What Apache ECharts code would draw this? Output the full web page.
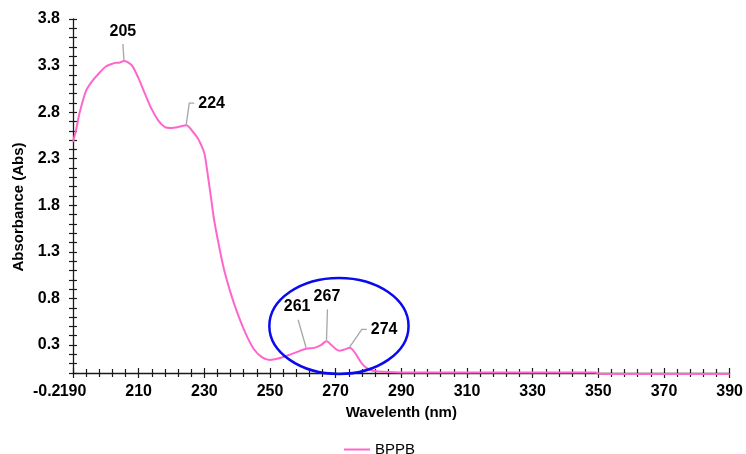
<!DOCTYPE html>
<html>
<head>
<meta charset="utf-8">
<script src="https://cdn.jsdelivr.net/npm/echarts@6/dist/echarts.min.js"></script>
<style>
  html, body { margin: 0; padding: 0; background: #fff; }
  #main { width: 746px; height: 454px; }
</style>
</head>
<body>
<div id="main"></div>
<script>
// UV spectrum of BPPB
var wavelength = [190, 191, 192, 194, 196, 198, 200, 202, 203, 204, 205.5, 206.5, 208, 210, 212, 214, 216, 218, 220, 222, 224.5,
    226.5, 228, 229, 230, 231, 232, 233, 234.5, 236, 238, 240, 242.5, 245, 247.5, 250, 252.5, 255.5, 258.5, 261, 263.5,
    265.5, 267.2, 269, 271, 272.5, 274.3, 276, 278, 280, 283, 290, 310, 330, 349, 351, 370, 390];
var absorbance = [2.48, 2.62, 2.79, 3.03, 3.14, 3.22, 3.29, 3.32, 3.33, 3.33, 3.35, 3.34, 3.30, 3.16, 2.99, 2.83, 2.71, 2.64, 2.63, 2.64, 2.66,
    2.59, 2.52, 2.45, 2.36, 2.14, 1.89, 1.64, 1.36, 1.11, 0.86, 0.65, 0.43, 0.26, 0.17, 0.14, 0.155, 0.19, 0.23, 0.26, 0.27,
    0.30, 0.34, 0.29, 0.24, 0.25, 0.27, 0.21, 0.10, 0.04, 0.015, 0.006, 0.005, 0.005, 0.005, -0.01, -0.01, -0.01];

// peak labels
var peakWl = [205.5, 224.5, 261, 267.2, 274.3];
var peakText = ['205', '224', '261', '267', '274'];

// ellipse round the small peaks (data units)
var ringCenter = [271, 0.505];
var ringRadius = [21.2, 0.515];

var FONT = 'Liberation Sans, Arial, sans-serif';
var PINK = '#FF66CC';

var seriesData = [];
for (var i = 0; i < wavelength.length; i++) {
    seriesData.push([wavelength[i], absorbance[i]]);
}

function absAt(w) {
    for (var i = 0; i < wavelength.length - 1; i++) {
        if (w >= wavelength[i] && w <= wavelength[i + 1]) {
            var t = (w - wavelength[i]) / (wavelength[i + 1] - wavelength[i]);
            return absorbance[i] + t * (absorbance[i + 1] - absorbance[i]);
        }
    }
    return 0;
}

var myChart = echarts.init(document.getElementById('main'));

myChart.setOption({
    animation: false,
    textStyle: { fontFamily: FONT },
    grid: { left: 73, right: 14, top: 19, bottom: 81 },
    legend: {
        data: [{ name: 'BPPB', icon: 'rect' }],
        left: 344,
        top: 442,
        padding: 0,
        itemWidth: 26,
        itemHeight: 2,
        itemGap: 4,
        textStyle: { fontFamily: FONT, fontSize: 15, color: '#000' }
    },
    xAxis: [
        {
            type: 'value', min: 190, max: 390, interval: 20, position: 'bottom',
            name: 'Wavelenth (nm)', nameLocation: 'middle', nameGap: 30,
            nameTextStyle: { fontFamily: FONT, fontSize: 15, fontWeight: 'bold', color: '#000' },
            axisLine: { show: true, onZero: false, lineStyle: { color: '#1a1a1a', width: 1.3 } },
            axisTick: { show: true, length: 5, lineStyle: { color: '#1a1a1a', width: 1.2 } },
            minorTick: { show: true, splitNumber: 5, length: 4, lineStyle: { color: '#1a1a1a', width: 1.2 } },
            axisLabel: { margin: 11, fontFamily: FONT, fontSize: 16, fontWeight: 'bold', color: '#000' },
            splitLine: { show: false }
        },
        {
            type: 'value', min: 190, max: 390, interval: 20, position: 'bottom',
            axisLine: { show: false, onZero: false },
            axisTick: { show: true, inside: true, length: 5, lineStyle: { color: '#1a1a1a', width: 1.2 } },
            minorTick: { show: true, splitNumber: 5, length: 4, lineStyle: { color: '#1a1a1a', width: 1.2 } },
            axisLabel: { show: false },
            splitLine: { show: false }
        }
    ],
    yAxis: [
        {
            type: 'value', min: 0, max: 3.8, interval: 0.1, position: 'left',
            name: 'Absorbance (Abs)', nameLocation: 'middle', nameGap: 47,
            nameTextStyle: { fontFamily: FONT, fontSize: 15, fontWeight: 'bold', color: '#000', padding: [0, 22, 0, 0] },
            axisLine: { show: true, onZero: false, lineStyle: { color: '#1a1a1a', width: 1.3 } },
            axisTick: { show: true, length: 4, lineStyle: { color: '#1a1a1a', width: 1.2 } },
            axisLabel: {
                margin: 13, fontFamily: FONT, fontSize: 16, fontWeight: 'bold', color: '#000',
                formatter: function (v) {
                    var r = Math.round(v * 10);
                    if (r > 0 && (r - 3) % 5 === 0) return v.toFixed(1);
                    return '';
                }
            },
            splitLine: { show: false }
        },
        {
            type: 'value', min: 0, max: 3.8, interval: 0.1, position: 'left',
            axisLine: { show: false, onZero: false },
            axisTick: { show: true, inside: true, length: 4, lineStyle: { color: '#1a1a1a', width: 1.2 } },
            axisLabel: { show: false },
            splitLine: { show: false }
        }
    ],
    series: [
        {
            name: 'BPPB',
            type: 'line',
            xAxisIndex: 0,
            yAxisIndex: 0,
            data: seriesData,
            symbol: 'none',
            smooth: 0.3,
            clip: false,
            z: 3,
            lineStyle: { color: PINK, width: 2 },
            itemStyle: { color: PINK }
        }
    ]
});

// annotations: leader lines, peak numbers, the ring, and the "-0.2" label
// offsets in px from the peak point
var leaderOffsets = [
    { pts: [[-1, -17]], label: [-1, -29], align: 'center' },
    { pts: [[3, -22], [8, -22]], label: [12, -22], align: 'left' },
    { pts: [[-8, -29]], label: [-9, -42], align: 'center' },
    { pts: [[1, -32]], label: [0.5, -44.5], align: 'center' },
    { pts: [[12, -18.5], [17, -18.5]], label: [21, -18.5], align: 'left' }
];

var graphics = [];
for (var k = 0; k < peakWl.length; k++) {
    var p = myChart.convertToPixel({ gridIndex: 0 }, [peakWl[k], absAt(peakWl[k])]);
    var o = leaderOffsets[k];
    var pts = [[p[0], p[1] - 1]];
    for (var j = 0; j < o.pts.length; j++) {
        pts.push([p[0] + o.pts[j][0], p[1] + o.pts[j][1]]);
    }
    graphics.push({
        type: 'polyline', shape: { points: pts }, z: 5,
        style: { stroke: '#a6a6a6', lineWidth: 1.3, fill: null }
    });
    graphics.push({
        type: 'text', z: 6, x: p[0] + o.label[0], y: p[1] + o.label[1],
        style: {
            text: peakText[k], fill: '#000', font: 'bold 16px ' + FONT,
            textAlign: o.align, textVerticalAlign: 'middle'
        }
    });
}

var c = myChart.convertToPixel({ gridIndex: 0 }, ringCenter);
var e = myChart.convertToPixel({ gridIndex: 0 }, [ringCenter[0] + ringRadius[0], ringCenter[1] + ringRadius[1]]);
graphics.push({
    type: 'ellipse', z: 4,
    shape: { cx: c[0], cy: c[1], rx: Math.abs(e[0] - c[0]), ry: Math.abs(c[1] - e[1]) },
    style: { stroke: '#0a0aee', lineWidth: 2.5, fill: null }
});

var low = myChart.convertToPixel({ gridIndex: 0 }, [190, -0.2]);
graphics.push({
    type: 'text', z: 6, x: low[0] - 12.5, y: low[1],
    style: { text: '-0.2', fill: '#000', font: 'bold 16px ' + FONT, textAlign: 'right', textVerticalAlign: 'middle' }
});

myChart.setOption({ graphic: graphics });
</script>
</body>
</html>
